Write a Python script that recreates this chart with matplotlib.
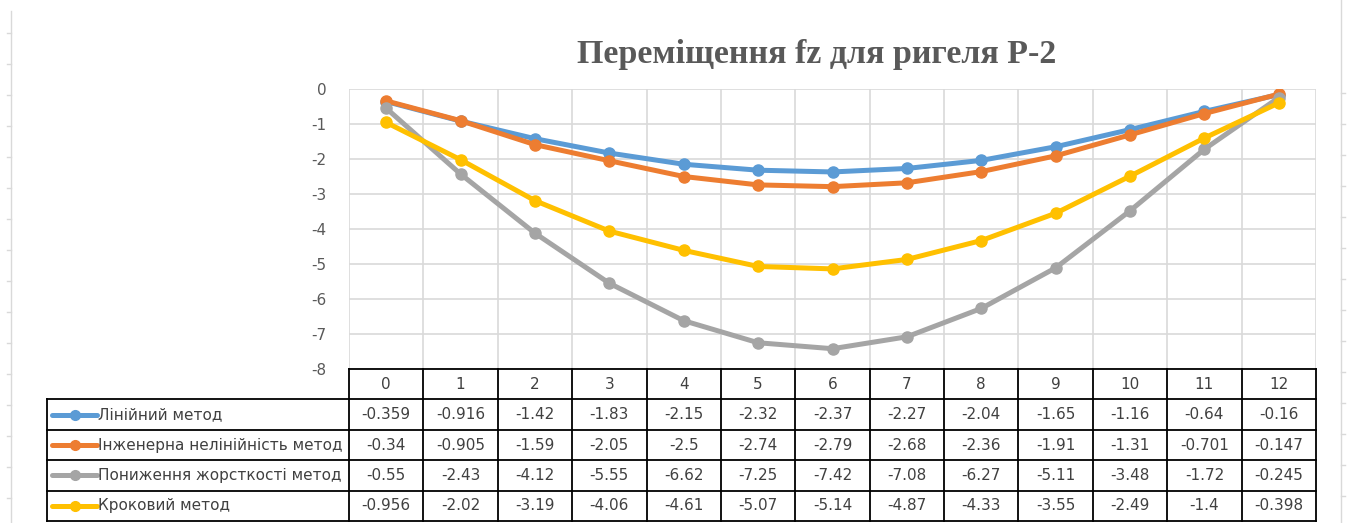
import numpy as np
import matplotlib
matplotlib.use("Agg")
import matplotlib.pyplot as plt

plt.rcParams["axes.unicode_minus"] = False

# node numbers along the beam and vertical displacement fz for each method
nodes = list(range(13))
linear = [-0.359, -0.916, -1.42, -1.83, -2.15, -2.32, -2.37, -2.27, -2.04, -1.65, -1.16, -0.64, -0.16]
eng_nonlin = [-0.34, -0.905, -1.59, -2.05, -2.5, -2.74, -2.79, -2.68, -2.36, -1.91, -1.31, -0.701, -0.147]
stiff_red = [-0.55, -2.43, -4.12, -5.55, -6.62, -7.25, -7.42, -7.08, -6.27, -5.11, -3.48, -1.72, -0.245]
stepwise = [-0.956, -2.02, -3.19, -4.06, -4.61, -5.07, -5.14, -4.87, -4.33, -3.55, -2.49, -1.4, -0.398]
value_labels = [
    ["-0.359", "-0.916", "-1.42", "-1.83", "-2.15", "-2.32", "-2.37", "-2.27", "-2.04", "-1.65", "-1.16", "-0.64", "-0.16"],
    ["-0.34", "-0.905", "-1.59", "-2.05", "-2.5", "-2.74", "-2.79", "-2.68", "-2.36", "-1.91", "-1.31", "-0.701", "-0.147"],
    ["-0.55", "-2.43", "-4.12", "-5.55", "-6.62", "-7.25", "-7.42", "-7.08", "-6.27", "-5.11", "-3.48", "-1.72", "-0.245"],
    ["-0.956", "-2.02", "-3.19", "-4.06", "-4.61", "-5.07", "-5.14", "-4.87", "-4.33", "-3.55", "-2.49", "-1.4", "-0.398"],
]
names = ["Лінійний метод", "Інженерна нелінійність метод",
         "Пониження жорсткості метод", "Кроковий метод"]
colors = ["#5B9BD5", "#ED7D31", "#A5A5A5", "#FFC000"]
series = [linear, eng_nonlin, stiff_red, stepwise]
title = "Переміщення fz для ригеля Р-2"

W, H = 1347, 523
fig = plt.figure(figsize=(W / 100, H / 100), dpi=100)


def box(x0, y0, x1, y1):
    return [x0 / W, 1 - y1 / H, (x1 - x0) / W, (y1 - y0) / H]


# faint sheet gridlines behind the chart
bg = fig.add_axes([0, 0, 1, 1])
bg.set_xlim(0, W)
bg.set_ylim(H, 0)
bg.axis("off")
bg.plot([11, 11], [11, H], color="#D9D9D9", lw=1)
bg.plot([1341, 1341], [0, H], color="#D9D9D9", lw=1)
for yy in np.arange(33, H, 31):
    bg.plot([7, 11], [yy, yy], color="#D9D9D9", lw=1)
    bg.plot([1341, 1345], [yy + 60, yy + 60], color="#D9D9D9", lw=1)

fig.text(817 / W, 1 - 55 / H, title, ha="center", va="center",
         fontsize=24.5, fontweight="bold", family="Liberation Serif", color="#595959")

x0_plot, x1_plot = 349, 1316
ax = fig.add_axes(box(x0_plot, 89, x1_plot, 369))
ax.set_xlim(-0.5, 12.5)
ax.set_ylim(-8, 0)
for s in ax.spines.values():
    s.set_visible(False)
ax.set_xticks(np.arange(-0.5, 13, 1))
ax.set_xticklabels([])
ax.set_yticks(range(-8, 1))
ax.tick_params(length=0, pad=16, labelsize=11, labelcolor="#595959")
ax.grid(True, color="#D9D9D9", lw=1.2)
ax.set_axisbelow(True)

for vals, c in zip(series, colors):
    ax.plot(nodes, vals, color=c, lw=3.6, marker="o", ms=8, solid_capstyle="round")

# data table underneath the plot
colw = (x1_plot - x0_plot) / 13
xl = -0.5 - (x0_plot - 47) / colw
tab = fig.add_axes(box(47, 369, x1_plot, 521))
tab.set_xlim(xl, 12.5)
tab.set_ylim(5, 0)
tab.axis("off")
kw = dict(color="black", lw=1.3, clip_on=False)
tab.plot([-0.5, 12.5], [0, 0], **kw)
for r in range(1, 6):
    tab.plot([xl, 12.5], [r, r], **kw)
tab.plot([xl, xl], [1, 5], **kw)
for b in np.arange(-0.5, 13, 1):
    tab.plot([b, b], [0, 5], **kw)

tfont = dict(fontsize=11, color="#404040", family="DejaVu Sans", va="center")
for i in nodes:
    tab.text(i, 0.5, str(i), ha="center", **tfont)
for r, (nm, c, labs) in enumerate(zip(names, colors, value_labels)):
    yc = r + 1.5
    k0 = xl + 5 / colw
    k1 = xl + 50 / colw
    tab.plot([k0, k1], [yc, yc], color=c, lw=3.6, solid_capstyle="round")
    tab.plot([(k0 + k1) / 2], [yc], color=c, marker="o", ms=7)
    tab.text(k1 + 1 / colw, yc, nm, ha="left", **tfont)
    for i, lab in zip(nodes, labs):
        tab.text(i, yc, lab, ha="center", **tfont)

fig.savefig("out.png", dpi=100)
